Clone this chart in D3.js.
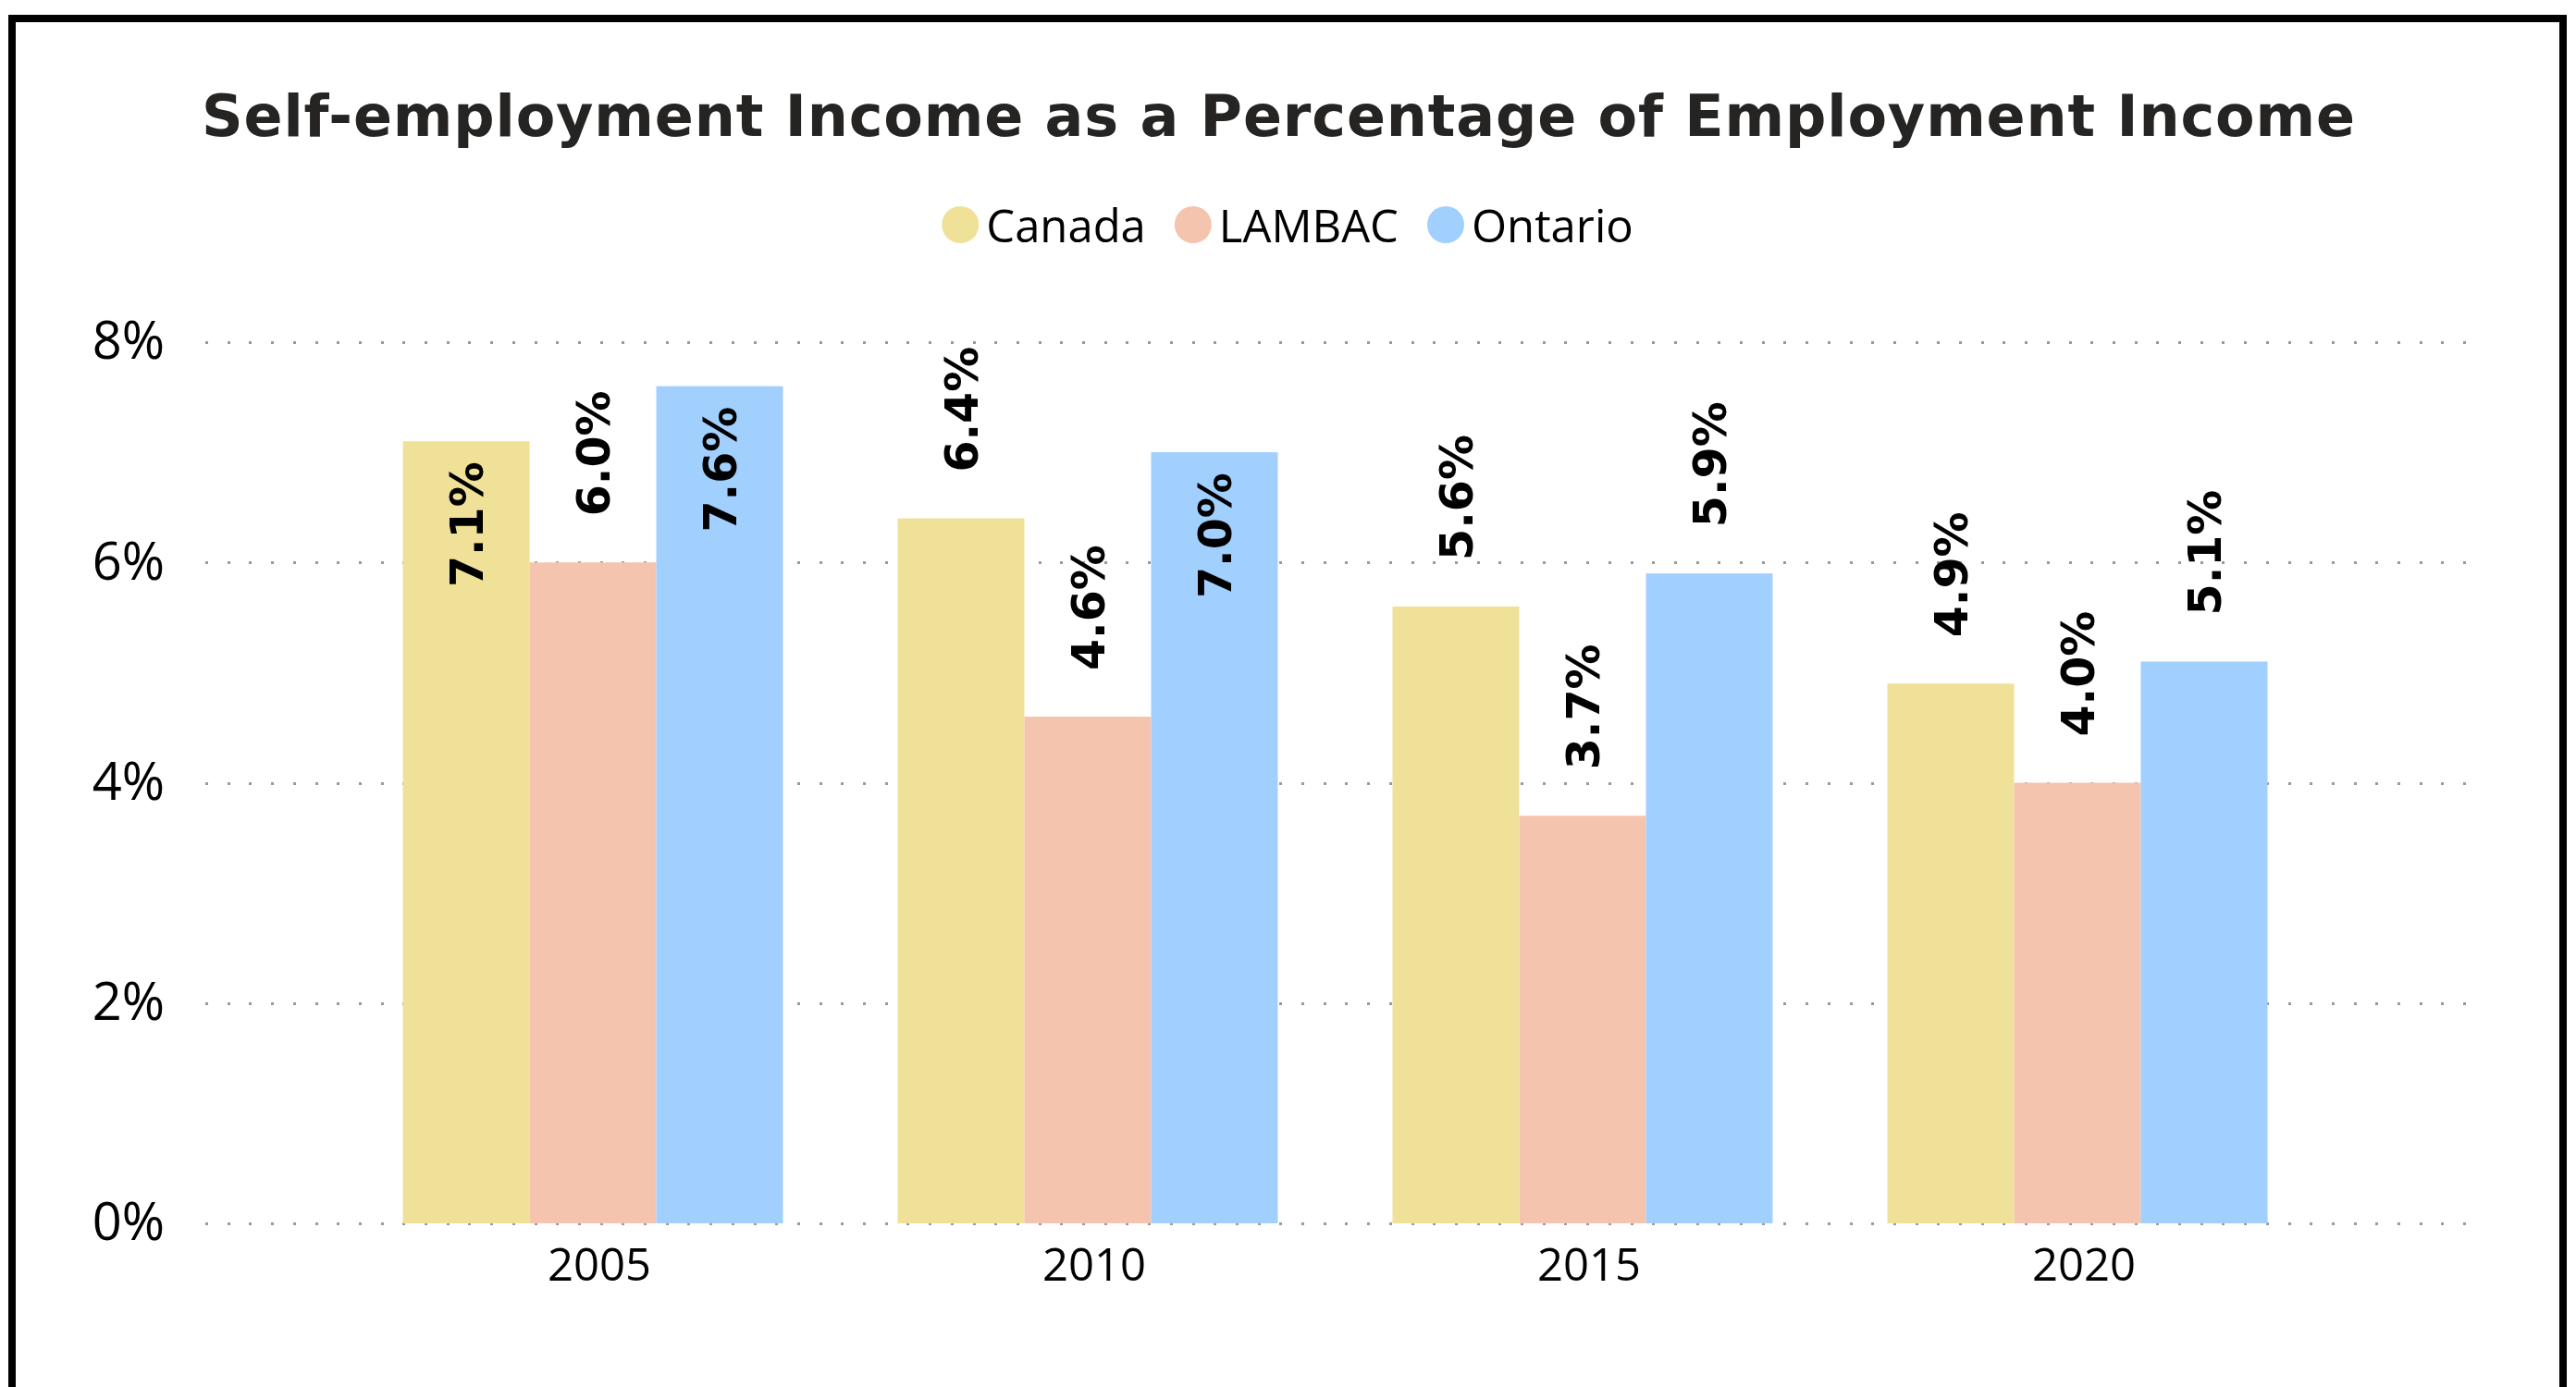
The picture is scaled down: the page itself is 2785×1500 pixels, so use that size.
<!DOCTYPE html>
<html>
<head>
<meta charset="utf-8">
<script src="https://cdn.jsdelivr.net/npm/d3@7"></script>
<style>
  html, body { margin: 0; padding: 0; background: #ffffff; }
  svg { display: block; }
</style>
</head>
<body>
<svg id="chart" width="2785" height="1500"></svg>
<script>
// Years on the category axis
const years = ["2005", "2010", "2015", "2020"];
// Regions compared in each year
const seriesNames = ["Canada", "LAMBAC", "Ontario"];
// Self-employment income as % of employment income
const canada  = [7.1, 6.4, 5.6, 4.9];
const lambac  = [6.0, 4.6, 3.7, 4.0];
const ontario = [7.6, 7.0, 5.9, 5.1];
// Value axis ticks (percent)
const yTicks = [0, 2, 4, 6, 8];

const seriesColors = ["#F0E199", "#F5C4AF", "#A1CFFE"];
const seriesValues = [canada, lambac, ontario];

const svg = d3.select("#chart");
const W = 2785, H = 1500;

svg.append("rect").attr("width", W).attr("height", H).attr("fill", "#fff");

// Frame around the visual (runs off the bottom edge)
svg.append("rect")
  .attr("x", 13).attr("y", 20)
  .attr("width", 2758).attr("height", 1520)
  .attr("fill", "none").attr("stroke", "#000").attr("stroke-width", 8);

// Title
svg.append("text")
  .attr("x", 1382).attr("y", 147)
  .attr("text-anchor", "middle")
  .attr("font-family", "DejaVu Sans, Verdana, sans-serif")
  .attr("font-weight", "bold")
  .attr("font-size", 62)
  .attr("textLength", 2328)
  .attr("lengthAdjust", "spacing")
  .attr("fill", "#252423")
  .text("Self-employment Income as a Percentage of Employment Income");

// Legend
const legendFont = "Segoe UI, Open Sans, sans-serif";
const legend = svg.append("g");
let lx = 0;
seriesNames.forEach((name, i) => {
  const g = legend.append("g");
  g.append("circle").attr("cx", lx + 20).attr("cy", 243).attr("r", 20).attr("fill", seriesColors[i]);
  const t = g.append("text")
    .attr("x", lx + 48).attr("y", 262)
    .attr("font-family", legendFont)
    .attr("font-size", 49)
    .attr("fill", "#000")
    .text(name);
  lx += 48 + t.node().getComputedTextLength() + 31;
});
const legendW = lx - 31;
legend.attr("transform", `translate(${1392 - legendW / 2},0)`);

// Scales
const plotLeft = 222, plotRight = 2673;
const y = d3.scaleLinear().domain([0, 8]).range([1323, 370]);
const x0 = d3.scaleBand().domain(years).range([218, 2669]).paddingInner(0.2318).paddingOuter(0.4066);
const x1 = d3.scaleBand().domain(seriesNames).range([0, x0.bandwidth()]).padding(0);

// Value axis labels
const yAxis = d3.axisLeft(y).tickValues(yTicks).tickFormat(d => d + "%")
  .tickSize(0).tickPadding(44);
const gy = svg.append("g").attr("transform", `translate(${plotLeft},0)`).call(yAxis);
gy.select(".domain").remove();
gy.selectAll(".tick line").remove();
gy.selectAll(".tick text")
  .attr("font-family", legendFont).attr("font-size", 56).attr("fill", "#000");

// Dotted gridlines
svg.append("g").selectAll("line").data(yTicks).join("line")
  .attr("x1", plotLeft).attr("x2", plotRight)
  .attr("y1", d => Math.round(y(d))).attr("y2", d => Math.round(y(d)))
  .attr("stroke", "#9a9a9a").attr("stroke-width", 3)
  .attr("stroke-dasharray", "3 20.7")
  .attr("shape-rendering", "crispEdges");

// Category axis labels
const xAxis = d3.axisBottom(x0).tickSize(0).tickPadding(0);
const gx = svg.append("g").attr("transform", `translate(7,${1385})`).call(xAxis);
gx.select(".domain").remove();
gx.selectAll(".tick text")
  .attr("font-family", legendFont).attr("font-size", 49).attr("fill", "#000")
  .attr("dy", 0).attr("y", 0);

// Bars
const barData = [];
years.forEach((yr, gi) => {
  seriesNames.forEach((s, si) => {
    barData.push({ year: yr, series: s, value: seriesValues[si][gi], color: seriesColors[si] });
  });
});

const bars = svg.append("g");
bars.selectAll("rect").data(barData).join("rect")
  .attr("x", d => x0(d.year) + x1(d.series))
  .attr("y", d => y(d.value))
  .attr("width", x1.bandwidth())
  .attr("height", d => y(0) - y(d.value))
  .attr("fill", d => d.color);

// Rotated value labels: above the bar, or inside its top end when there is no room
const labels = svg.append("g");
barData.forEach(d => {
  const cx = x0(d.year) + x1(d.series) + x1.bandwidth() / 2;
  const top = y(d.value);
  const t = labels.append("text")
    .attr("font-family", "DejaVu Sans, Verdana, sans-serif")
    .attr("font-weight", "bold")
    .attr("font-size", 49)
    .attr("fill", "#000")
    .attr("dy", "0.36em")
    .text(d.value.toFixed(1) + "%");
  const len = t.node().getComputedTextLength();
  if (top - 50 - len < y(8)) {
    t.attr("text-anchor", "end").attr("transform", `translate(${cx},${top + 22}) rotate(-90)`);
  } else {
    t.attr("text-anchor", "start").attr("transform", `translate(${cx},${top - 50}) rotate(-90)`);
  }
});
</script>
</body>
</html>
